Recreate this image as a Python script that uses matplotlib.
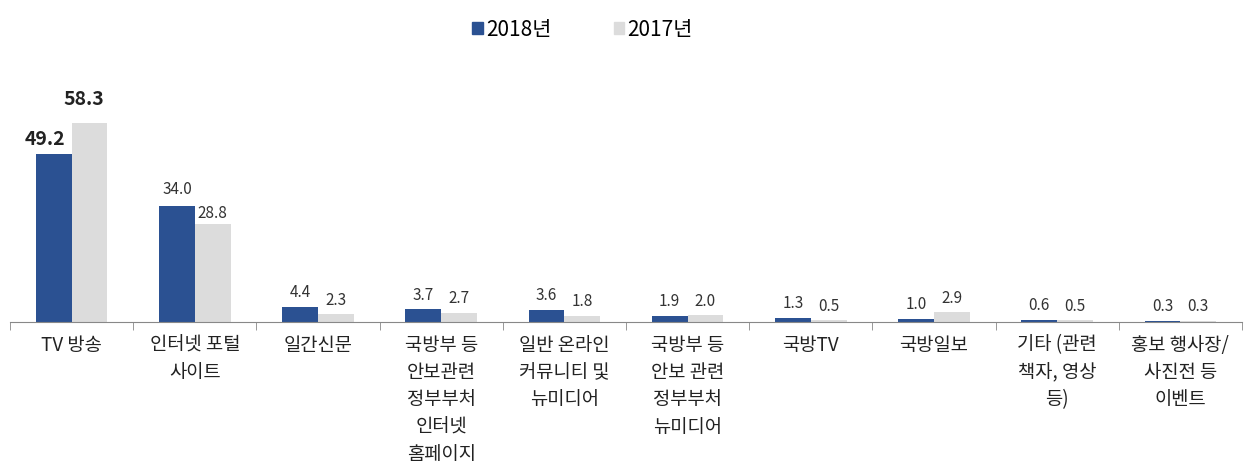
import numpy as np
import matplotlib
matplotlib.use('Agg')
import matplotlib.pyplot as plt
from matplotlib.patches import Patch

plt.rcParams['font.family'] = ['Noto Sans CJK KR', 'DejaVu Sans']

categories = ['TV 방송', '인터넷 포털\n사이트', '일간신문', '국방부 등\n안보관련\n정부부처\n인터넷\n홈페이지',
              '일반 온라인\n커뮤니티 및\n뉴미디어', '국방부 등\n안보 관련\n정부부처\n뉴미디어', '국방TV',
              '국방일보', '기타 (관련\n책자, 영상\n등)', '홍보 행사장/\n사진전 등\n이벤트']
v2018 = [49.2, 34.0, 4.4, 3.7, 3.6, 1.9, 1.3, 1.0, 0.6, 0.3]
v2017 = [58.3, 28.8, 2.3, 2.7, 1.8, 2.0, 0.5, 2.9, 0.5, 0.3]

c2018 = '#2B5192'
c2017 = '#DCDCDC'

fig = plt.figure(figsize=(12.47, 4.66), dpi=100)
ax = fig.add_axes([10 / 1247, 144 / 466, 1232 / 1247, 222 / 466])

x = np.arange(len(categories))
w = 0.29
ax.bar(x - w / 2, v2018, w, color=c2018)
ax.bar(x + w / 2, v2017, w, color=c2017)

ax.set_xlim(-0.5, len(categories) - 0.5)
ax.set_ylim(0, 65.1)

# value labels
for i in range(len(categories)):
    if i == 0:
        ax.annotate(f'{v2018[i]:.1f}', (x[i] - w / 2, v2018[i]), xytext=(-6, 4), textcoords='offset points',
                    ha='center', va='bottom', fontsize=14, fontweight='bold', color='#222222')
        ax.annotate(f'{v2017[i]:.1f}', (x[i] + w / 2, v2017[i]), xytext=(-4, 10), textcoords='offset points',
                    ha='center', va='bottom', fontsize=14, fontweight='bold', color='#222222')
    else:
        off1, off2 = 4, 4
        if i == 1:
            off1, off2 = 6, 1
        ax.annotate(f'{v2018[i]:.1f}', (x[i] - w / 2, v2018[i]), xytext=(0, off1), textcoords='offset points',
                    ha='center', va='bottom', fontsize=11, color='#333333')
        ax.annotate(f'{v2017[i]:.1f}', (x[i] + w / 2, v2017[i]), xytext=(0, off2), textcoords='offset points',
                    ha='center', va='bottom', fontsize=11, color='#333333')

for s in ['top', 'right', 'left']:
    ax.spines[s].set_visible(False)
ax.spines['bottom'].set_color('#888888')
ax.set_yticks([])
ax.set_xticks(np.arange(len(categories) + 1) - 0.5, minor=True)
ax.tick_params(axis='x', which='minor', length=6, color='#888888')
ax.set_xticks(x)
ax.set_xticklabels(categories, fontsize=13.5, color='#222222', linespacing=1.4, va='top')
ax.tick_params(axis='x', which='major', length=0, pad=9)

handles = [Patch(color=c2018, label='2018년'), Patch(color=c2017, label='2017년')]
fig.legend(handles=handles, loc='upper center', bbox_to_anchor=(0.467, 1.0), ncol=2, frameon=False,
           fontsize=15, handlelength=0.5, handleheight=0.5, handletextpad=0.15, columnspacing=3.0)

fig.savefig('out.png', dpi=100)
